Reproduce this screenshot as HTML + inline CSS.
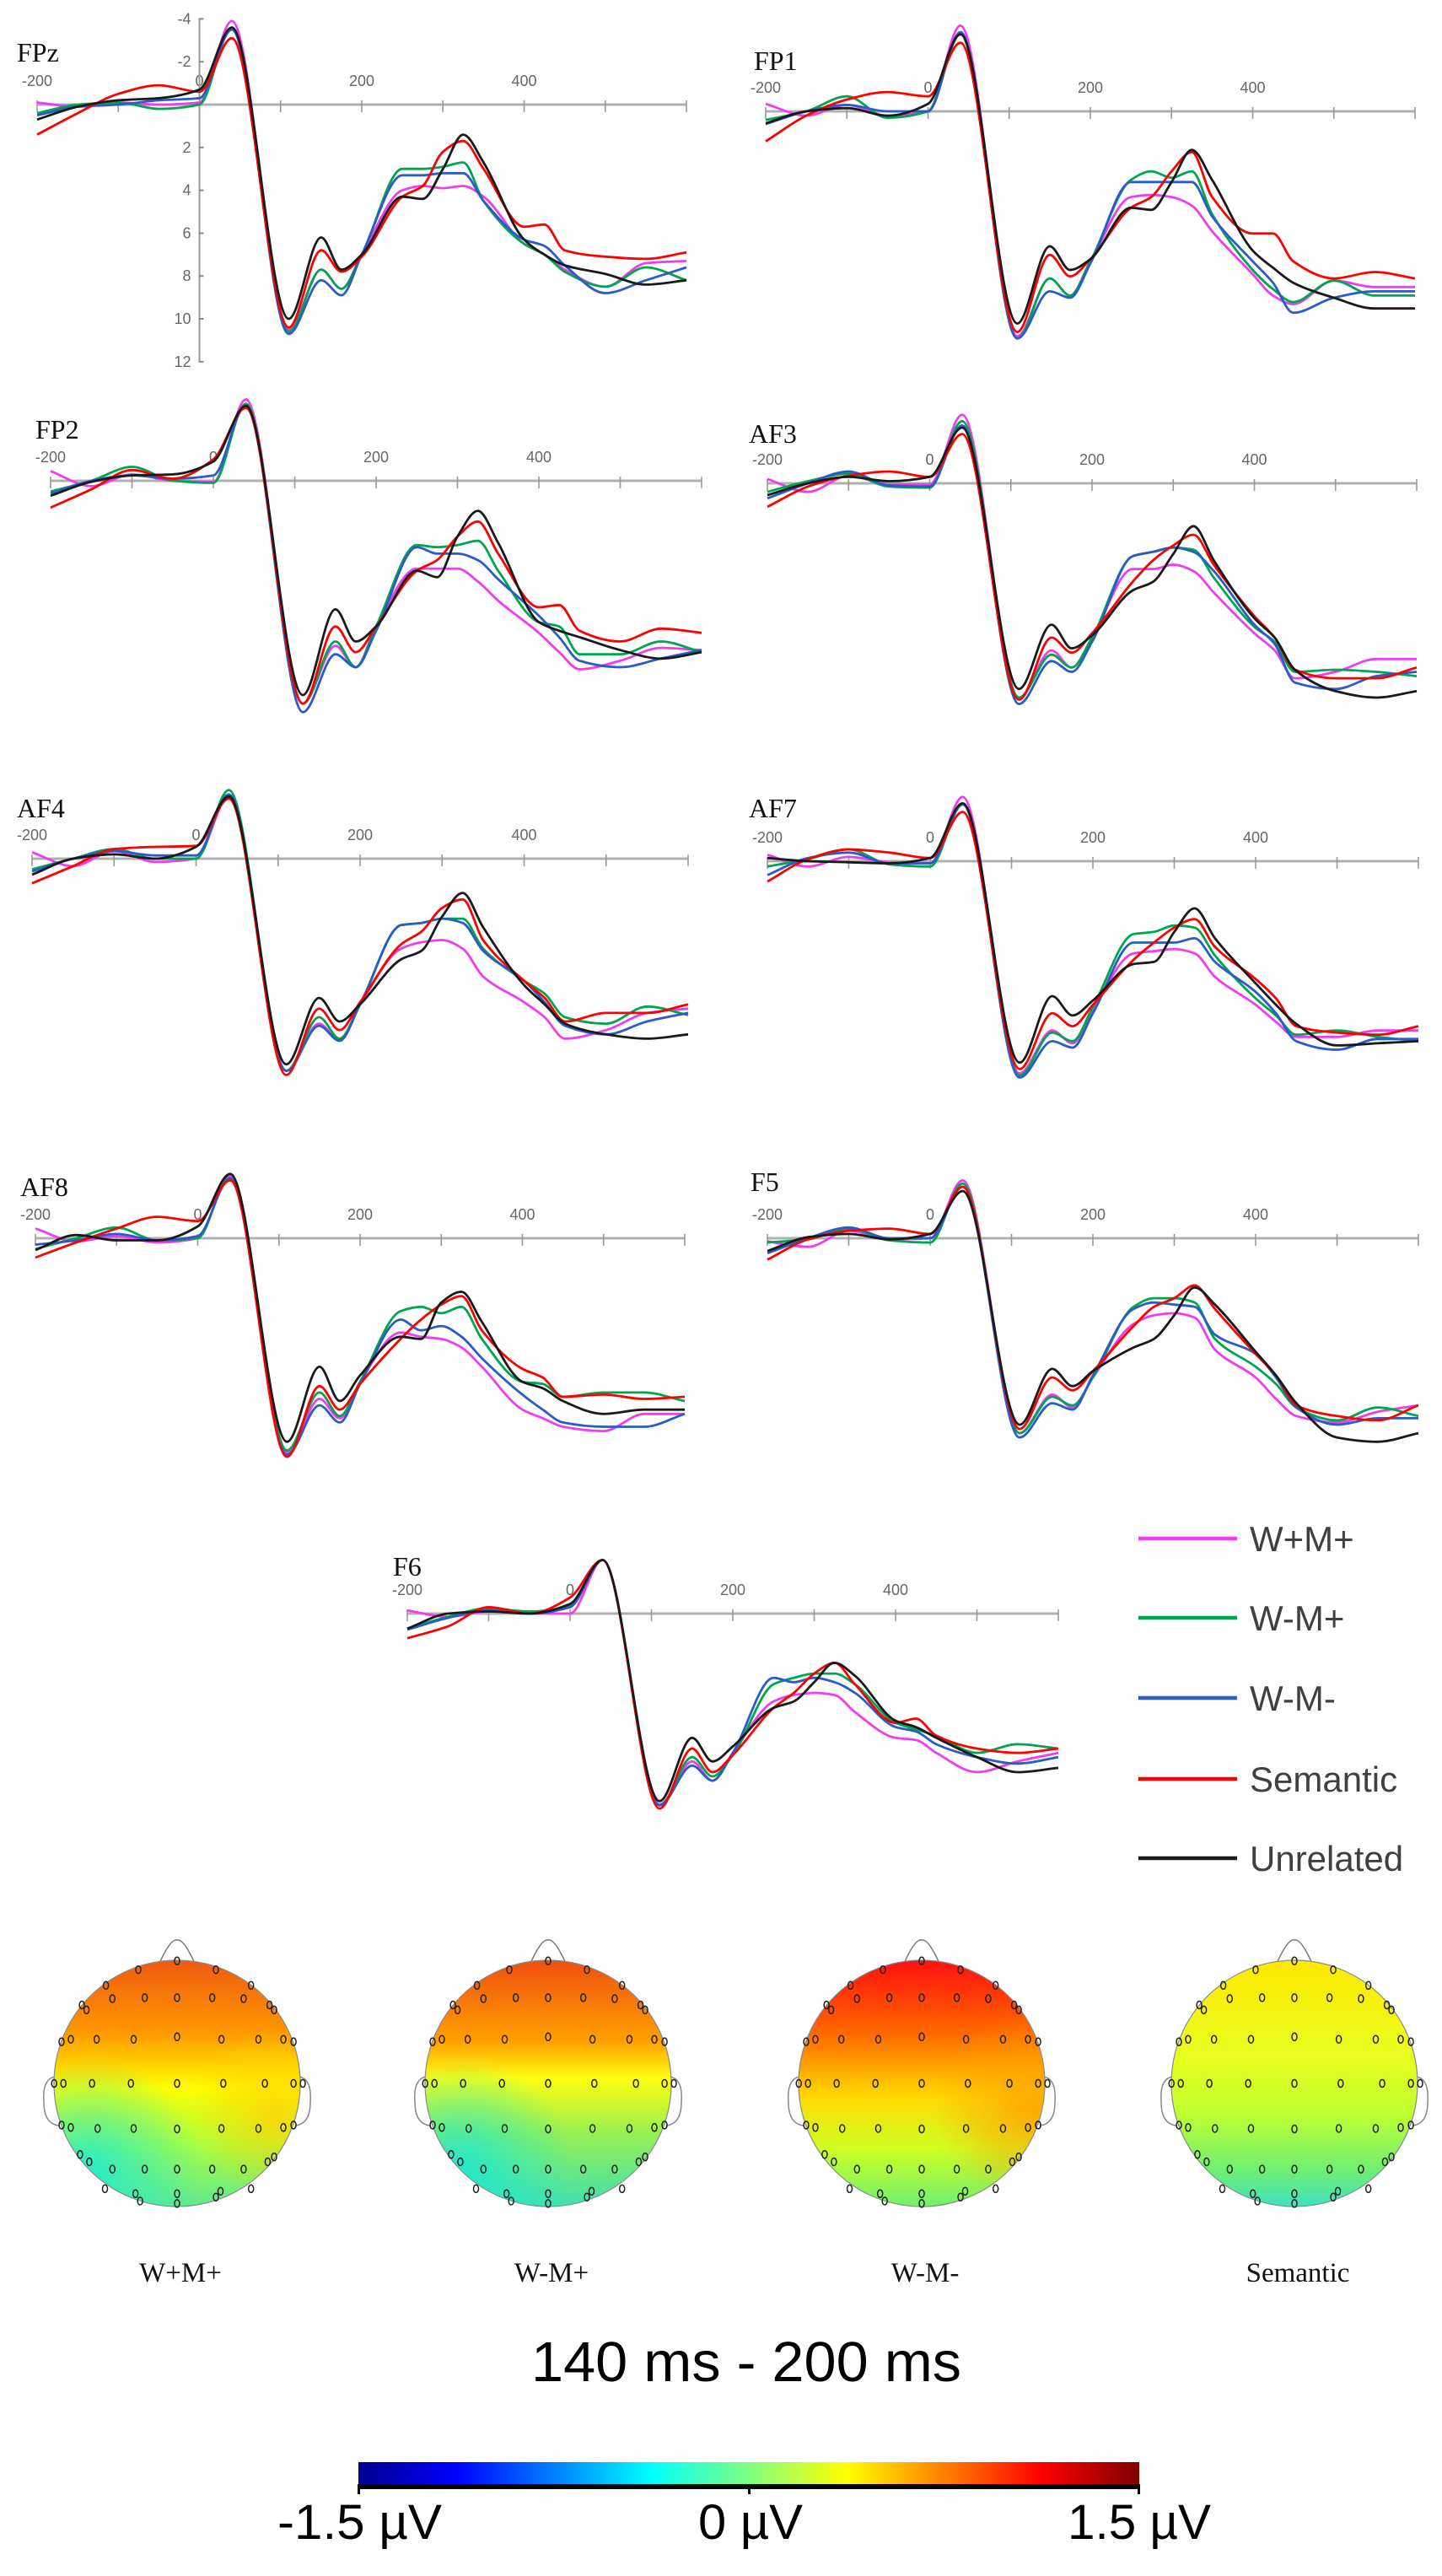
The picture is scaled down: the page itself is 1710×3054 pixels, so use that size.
<!DOCTYPE html>
<html><head><meta charset="utf-8"><title>ERP waveforms and topographic maps</title>
<style>
html,body{margin:0;padding:0;background:#fff;}
svg{display:block;}
.tick{font-family:"Liberation Sans Narrow","Liberation Sans",sans-serif;font-size:18px;fill:#666;}
.chan{font-family:"Liberation Serif",serif;font-size:32px;fill:#111;}
.leg{font-family:"Liberation Sans",sans-serif;font-size:42px;fill:#404040;}
.topo{font-family:"Liberation Serif",serif;font-size:33px;fill:#111;}
.big{font-family:"Liberation Sans Narrow","Liberation Sans",sans-serif;fill:#000;}
</style></head>
<body>
<svg id="fig" xmlns="http://www.w3.org/2000/svg" width="1710" height="3054" viewBox="0 0 1710 3054">
<defs>
<linearGradient id="jet" x1="0" x2="1" y1="0" y2="0">
<stop offset="0" stop-color="#00008f"/><stop offset="0.125" stop-color="#0000ff"/><stop offset="0.375" stop-color="#00ffff"/><stop offset="0.625" stop-color="#ffff00"/><stop offset="0.875" stop-color="#ff0000"/><stop offset="1" stop-color="#800000"/>
</linearGradient>
<linearGradient id="g1" x1="0" x2="0" y1="0" y2="1"><stop offset="0" stop-color="#f05a10"/><stop offset="0.3" stop-color="#ff9a00"/><stop offset="0.52" stop-color="#ffff00"/><stop offset="0.75" stop-color="#a8ff40"/><stop offset="1" stop-color="#60e890"/></linearGradient>
<linearGradient id="g2" x1="0" x2="0" y1="0" y2="1"><stop offset="0" stop-color="#f05010"/><stop offset="0.33" stop-color="#ffa000"/><stop offset="0.48" stop-color="#ffff10"/><stop offset="0.7" stop-color="#98f050"/><stop offset="1" stop-color="#40e0b0"/></linearGradient>
<linearGradient id="g3" x1="0" x2="0" y1="0" y2="1"><stop offset="0" stop-color="#ff1010"/><stop offset="0.3" stop-color="#ff6a00"/><stop offset="0.55" stop-color="#ffd800"/><stop offset="0.76" stop-color="#d0ff20"/><stop offset="1" stop-color="#70f070"/></linearGradient>
<linearGradient id="g4" x1="0" x2="0" y1="0" y2="1"><stop offset="0" stop-color="#ffe800"/><stop offset="0.4" stop-color="#e8ff20"/><stop offset="0.62" stop-color="#c0ff30"/><stop offset="0.85" stop-color="#70f070"/><stop offset="1" stop-color="#40e0c0"/></linearGradient>
<radialGradient id="cyanBL" cx="0.15" cy="0.85" r="0.45"><stop offset="0" stop-color="#10e8e0" stop-opacity="0.8"/><stop offset="1" stop-color="#10e8e0" stop-opacity="0"/></radialGradient>
<radialGradient id="yelR" cx="0.9" cy="0.62" r="0.35"><stop offset="0" stop-color="#ffd000" stop-opacity="0.8"/><stop offset="1" stop-color="#ffd000" stop-opacity="0"/></radialGradient>
<radialGradient id="orR" cx="0.95" cy="0.6" r="0.4"><stop offset="0" stop-color="#ffa000" stop-opacity="0.85"/><stop offset="1" stop-color="#ffa000" stop-opacity="0"/></radialGradient>
</defs>
<g id="panels"></g>
<g id="legend"></g>
<g id="topos"></g>
<text class="big" x="630" y="2823" font-size="67" textLength="510" lengthAdjust="spacingAndGlyphs">140 ms - 200 ms</text>
<g>
<rect x="425" y="2919" width="926" height="27" fill="url(#jet)"/>
<rect x="425" y="2945" width="926" height="6" fill="#000"/>
<rect x="424" y="2945" width="3" height="12" fill="#000"/><rect x="887" y="2945" width="3" height="12" fill="#000"/><rect x="1349" y="2945" width="3" height="12" fill="#000"/>
<text class="big" x="329" y="3010" font-size="58" textLength="195" lengthAdjust="spacingAndGlyphs">-1.5 µV</text>
<text class="big" x="828" y="3010" font-size="58" textLength="124" lengthAdjust="spacingAndGlyphs">0 µV</text>
<text class="big" x="1266" y="3010" font-size="58" textLength="170" lengthAdjust="spacingAndGlyphs">1.5 µV</text>
</g>
</svg>
<script>
// ---- data ----
const times = [-200,-150,-100,-50,0,40,110,150,175,200,250,275,300,325,350,400,425,450,500,550,600];
const seriesNames = ["W+M+","W-M+","W-M-","Semantic","Unrelated"];
const seriesColors = ["#f03cf0","#00a550","#2a5cc8","#ff0000","#1a1a1a"];
const xTickLabels = ["-200","0","200","400"];
const yTickLabels = [-4,-2,2,4,6,8,10,12];

const FPz_WpMp = [-0.1,0.1,-0.1,0.0,-0.1,-3.9,10.5,7.7,8.6,7.0,4.0,3.8,3.9,3.8,4.3,6.5,7.0,7.7,8.5,7.4,7.3];
const FPz_WmMp = [0.4,0.0,-0.1,0.2,0.0,-3.6,10.6,7.7,8.6,7.0,3.0,3.0,2.9,2.7,4.5,6.5,7.0,7.8,8.5,7.6,8.2];
const FPz_WmMm = [0.5,0.1,0.0,-0.2,-0.3,-3.5,10.7,8.2,8.9,7.0,3.3,3.3,3.2,3.2,4.5,6.3,6.6,7.5,8.8,8.2,7.6];
const FPz_Sem  = [1.4,0.4,-0.5,-0.9,-0.6,-3.1,10.4,6.8,7.8,7.1,4.3,3.8,2.2,1.7,3.0,5.7,5.6,6.8,7.1,7.2,6.9];
const FPz_Unr  = [0.7,0.1,-0.2,-0.3,-0.7,-3.6,10.0,6.2,7.7,7.0,4.3,4.4,3.0,1.4,2.7,6.3,7.0,7.5,7.9,8.4,8.2];

const FP1_WpMp = [-0.35,0.2,-0.3,0.2,0.0,-4.0,10.5,7.8,8.6,7.0,4.0,3.9,4.0,4.4,5.6,7.6,8.6,9.0,7.9,8.2,8.2];
const FP1_WmMp = [0.4,0.0,-0.7,0.3,0.0,-3.6,10.6,7.8,8.6,7.0,3.2,2.8,3.1,2.8,4.8,7.4,8.3,8.9,7.9,8.6,8.6];
const FP1_WmMm = [0.6,0.0,-0.3,0.0,0.0,-3.7,10.6,8.4,8.7,7.1,3.3,3.3,3.3,3.3,4.9,7.0,8.0,9.4,8.7,8.4,8.4];
const FP1_Sem  = [1.4,0.2,-0.55,-0.9,-0.7,-3.2,10.3,6.7,7.7,6.9,4.5,4.0,2.8,1.9,4.0,5.7,5.7,7.0,7.8,7.5,7.8];
const FP1_Unr  = [0.56,0.0,-0.15,0.2,-0.35,-3.6,9.9,6.3,7.4,6.9,4.5,4.6,3.3,1.8,3.2,6.5,7.3,8.0,8.7,9.2,9.2];

const FP2_WpMp = [-0.45,0.25,-0.3,0.0,0.05,-3.8,10.4,7.7,8.7,6.8,4.1,4.1,4.1,4.7,5.6,7.1,8.0,8.8,8.4,7.8,7.9];
const FP2_WmMp = [0.5,0.0,-0.65,0.0,0.1,-3.6,10.4,7.5,8.7,6.8,3.0,3.1,3.0,2.8,4.2,6.6,6.8,8.1,8.1,7.5,8.0];
const FP2_WmMm = [0.6,0.0,-0.25,-0.1,-0.25,-3.5,10.8,8.1,8.7,7.0,3.1,3.4,3.4,3.7,4.6,6.3,7.3,8.4,8.7,8.3,7.9];
const FP2_Sem  = [1.25,0.4,-0.5,-0.1,-1.0,-3.4,10.4,6.8,8.0,6.8,4.2,3.7,2.6,1.9,3.4,5.9,5.8,7.0,7.5,6.9,7.1];
const FP2_Unr  = [0.7,0.05,-0.25,-0.3,-0.9,-3.5,10.0,6.0,7.5,6.8,4.2,4.5,2.6,1.4,2.9,6.6,7.0,7.3,7.9,8.3,8.0];

const AF3_WpMp = [-0.2,0.4,-0.35,0.05,0.05,-3.2,10.0,7.8,8.6,7.2,4.0,4.0,3.8,4.1,5.1,7.0,7.8,9.1,8.8,8.2,8.2];
const AF3_WmMp = [0.4,-0.1,-0.45,0.15,0.2,-2.9,10.0,8.0,8.6,7.2,3.4,3.2,3.0,3.1,4.4,6.7,7.4,8.8,8.7,8.8,9.0];
const AF3_WmMm = [0.7,0.0,-0.55,0.1,0.15,-2.7,10.3,8.3,8.8,7.4,3.4,3.2,3.0,3.2,4.1,6.6,7.5,9.3,9.6,9.0,8.8];
const AF3_Sem  = [1.1,0.15,-0.35,-0.55,-0.3,-2.3,10.1,7.2,7.9,7.0,4.6,3.6,2.9,2.4,3.8,6.2,7.2,8.7,9.1,9.1,8.6];
const AF3_Unr  = [0.55,0.0,-0.3,-0.1,-0.3,-2.6,9.6,6.6,7.7,7.1,5.0,4.6,3.3,2.0,3.6,6.3,7.2,8.7,9.7,10.0,9.7];

const AF4_WpMp = [-0.3,0.35,-0.35,0.15,0.0,-2.9,9.9,7.7,8.5,6.8,4.2,3.9,3.8,4.2,5.5,6.7,7.4,8.4,8.0,7.2,7.0];
const AF4_WmMp = [0.5,0.0,-0.45,0.0,0.0,-3.2,9.9,7.4,8.4,6.8,3.1,3.0,2.8,2.8,4.2,5.7,6.3,7.4,7.7,6.9,7.3];
const AF4_WmMm = [0.6,0.0,-0.35,-0.15,-0.15,-3.0,9.9,7.8,8.5,6.8,3.1,3.0,2.8,3.0,4.3,5.7,6.7,7.8,8.2,7.6,7.2];
const AF4_Sem  = [1.15,0.35,-0.45,-0.55,-0.6,-2.8,10.1,7.0,8.0,6.7,4.0,3.4,2.3,1.9,3.8,5.7,6.5,7.6,7.2,7.2,6.8];
const AF4_Unr  = [0.75,0.0,-0.2,0.0,-0.55,-2.9,9.6,6.5,7.6,6.8,4.7,4.3,2.7,1.6,3.2,5.9,6.8,7.7,8.2,8.4,8.2];

const AF7_WpMp = [-0.3,0.25,-0.2,0.05,0.1,-3.0,9.9,7.9,8.5,6.9,4.3,4.2,4.1,4.3,5.4,6.7,7.5,8.2,8.2,7.9,7.9];
const AF7_WmMp = [0.25,-0.1,-0.55,0.15,0.25,-2.65,10.0,8.0,8.4,6.8,3.4,3.3,3.0,3.1,4.4,6.4,7.2,8.1,7.9,8.2,8.4];
const AF7_WmMm = [0.65,-0.15,-0.4,0.1,0.1,-2.65,10.1,8.4,8.7,7.1,3.8,3.8,3.8,3.6,4.7,6.1,7.1,8.4,8.8,8.3,8.3];
const AF7_Sem  = [0.95,-0.1,-0.55,-0.4,-0.15,-2.3,9.7,7.1,7.7,6.7,4.6,3.8,3.1,2.7,4.0,5.5,6.4,7.7,8.0,8.1,7.7];
const AF7_Unr  = [-0.15,0.0,0.05,0.1,-0.15,-2.7,9.4,6.3,7.2,6.5,4.8,4.7,3.3,2.2,3.6,5.7,6.7,7.6,8.6,8.5,8.4];

const AF8_WpMp = [-0.45,0.15,-0.1,0.2,0.0,-2.9,10.0,7.5,8.4,6.7,4.4,4.6,4.7,5.1,6.0,8.0,8.4,8.8,9.0,8.2,8.2];
const AF8_WmMp = [0.5,0.0,-0.5,0.1,0.0,-3.0,9.9,7.2,8.3,6.7,3.4,3.2,3.5,3.2,4.7,6.7,6.8,7.4,7.2,7.2,7.6];
const AF8_WmMm = [0.3,0.1,-0.2,0.1,-0.1,-2.8,10.1,7.8,8.6,6.8,3.8,4.3,4.1,4.6,5.6,7.3,8.0,8.6,8.8,8.8,8.2];
const AF8_Sem  = [0.9,0.2,-0.45,-1.0,-0.8,-2.7,10.2,6.9,8.0,6.8,4.7,3.8,3.1,2.7,4.3,6.1,6.5,7.4,7.3,7.5,7.4];
const AF8_Unr  = [0.55,-0.15,0.1,0.1,-0.55,-3.0,9.5,6.0,7.6,6.4,4.6,4.7,3.0,2.5,3.9,6.7,7.0,7.6,8.2,8.0,8.0];

const F5_WpMp = [0.15,0.4,-0.35,0.05,0.0,-2.7,9.1,7.3,7.9,6.5,4.0,3.6,3.5,3.7,5.2,6.5,7.5,8.3,8.6,8.1,7.8];
const F5_WmMp = [0.2,0.05,-0.45,0.1,0.2,-2.55,9.1,7.4,7.8,6.5,3.2,2.8,2.8,3.0,4.7,6.0,6.8,7.9,8.5,7.9,8.3];
const F5_WmMm = [0.7,0.0,-0.5,0.0,0.0,-2.4,9.3,7.7,8.0,6.4,3.3,3.0,3.1,3.2,4.5,5.4,6.5,7.9,8.7,8.4,8.4];
const F5_Sem  = [1.0,0.05,-0.35,-0.45,-0.2,-2.4,8.9,6.5,7.1,6.2,4.1,3.2,2.8,2.2,3.3,5.4,6.4,7.8,8.3,8.5,7.8];
const F5_Unr  = [0.6,-0.05,-0.2,0.05,-0.2,-2.2,8.7,6.1,6.9,6.2,5.1,4.7,3.6,2.3,3.1,5.3,6.4,7.7,9.3,9.5,9.1];

const F6_WpMp = [-0.15,0.15,-0.1,0.0,0.0,-2.5,8.9,6.9,7.8,6.5,4.1,3.8,3.7,3.8,4.6,5.8,5.9,6.5,7.4,6.9,6.5];
const F6_WmMp = [0.7,0.15,-0.25,-0.1,-0.35,-2.5,8.95,6.7,7.6,6.6,3.3,3.0,2.8,2.8,3.3,5.1,5.4,5.7,6.5,6.1,6.3];
const F6_WmMm = [0.75,0.2,-0.15,0.0,-0.3,-2.5,8.95,7.1,7.8,6.5,3.0,3.2,3.0,3.2,3.7,5.3,5.5,6.1,6.7,7.0,6.7];
const F6_Sem  = [1.15,0.6,-0.3,0.0,-0.75,-2.5,9.1,6.3,7.4,6.6,4.4,3.7,2.8,2.3,3.3,5.1,4.9,5.7,6.3,6.5,6.3];
const F6_Unr  = [0.7,0.0,-0.1,0.0,-0.45,-2.5,8.75,5.8,6.9,6.2,4.4,4.1,3.2,2.3,2.9,5.0,5.3,5.8,6.7,7.4,7.2];

const channelNames = ["FPz","FP1","FP2","AF3","AF4","AF7","AF8","F5","F6"];
const channelData = [
  [FPz_WpMp,FPz_WmMp,FPz_WmMm,FPz_Sem,FPz_Unr],
  [FP1_WpMp,FP1_WmMp,FP1_WmMm,FP1_Sem,FP1_Unr],
  [FP2_WpMp,FP2_WmMp,FP2_WmMm,FP2_Sem,FP2_Unr],
  [AF3_WpMp,AF3_WmMp,AF3_WmMm,AF3_Sem,AF3_Unr],
  [AF4_WpMp,AF4_WmMp,AF4_WmMm,AF4_Sem,AF4_Unr],
  [AF7_WpMp,AF7_WmMp,AF7_WmMm,AF7_Sem,AF7_Unr],
  [AF8_WpMp,AF8_WmMp,AF8_WmMm,AF8_Sem,AF8_Unr],
  [F5_WpMp,F5_WmMp,F5_WmMm,F5_Sem,F5_Unr],
  [F6_WpMp,F6_WmMp,F6_WmMm,F6_Sem,F6_Unr]
];
// layout (not data)
const layout = [
  {x0:44,w:770,ay:124,lx:20,ly:73},
  {x0:908,w:770,ay:132,lx:894,ly:83},
  {x0:60,w:772,ay:570,lx:42,ly:520},
  {x0:910,w:770,ay:573,lx:888,ly:525},
  {x0:38,w:778,ay:1018,lx:20,ly:969},
  {x0:910,w:772,ay:1021,lx:888,ly:969},
  {x0:42,w:770,ay:1468,lx:24,ly:1418},
  {x0:910,w:772,ay:1468,lx:890,ly:1412},
  {x0:483,w:772,ay:1913,lx:466,ly:1868}
];
const PXPERUV = 25.4;

const NS = "http://www.w3.org/2000/svg";
function mk(tag, attrs, parent){ const e=document.createElementNS(NS,tag); for(const k in attrs) e.setAttribute(k,attrs[k]); if(parent) parent.appendChild(e); return e; }

function monoPath(xs, ys){
  const n=xs.length, d=[], h=[], m=[];
  for(let i=0;i<n-1;i++){ h.push(xs[i+1]-xs[i]); d.push((ys[i+1]-ys[i])/h[i]); }
  m[0]=d[0]; m[n-1]=d[n-2];
  for(let i=1;i<n-1;i++){
    if(d[i-1]*d[i]<=0) m[i]=0;
    else { const h0=h[i-1],h1=h[i]; m[i]=3*(h0+h1)/((2*h1+h0)/d[i-1]+(h1+2*h0)/d[i]); }
  }
  let p="M"+xs[0].toFixed(1)+","+ys[0].toFixed(1);
  for(let i=0;i<n-1;i++){
    const hh=h[i]/3;
    p+=" C"+(xs[i]+hh).toFixed(1)+","+(ys[i]+m[i]*hh).toFixed(1)+" "+(xs[i+1]-hh).toFixed(1)+","+(ys[i+1]-m[i+1]*hh).toFixed(1)+" "+xs[i+1].toFixed(1)+","+ys[i+1].toFixed(1);
  }
  return p;
}

const panelsG=document.getElementById("panels");
channelNames.forEach((name,ci)=>{
  const L=layout[ci];
  const xs=t=>L.x0+(t+200)/800*L.w;
  const ys=v=>L.ay+v*PXPERUV;
  const g=mk("g",{},panelsG);
  
  
  const lab=mk("text",{x:L.lx,y:L.ly,class:"chan"},g); lab.textContent=name;
  
  
  const ax=mk("line",{x1:xs(-200),x2:xs(600),y1:L.ay,y2:L.ay,stroke:"#b0b0b0","stroke-width":3},g);
  
  
  for(let t=-200;t<=600;t+=100){
    const tk=mk("line",{x1:xs(t),x2:xs(t),y1:L.ay-5,y2:L.ay+9,stroke:"#999","stroke-width":1.6},g);
    
    
  }
  xTickLabels.forEach(s=>{
    const tx=mk("text",{x:xs(+s),y:L.ay-22,class:"tick","text-anchor":"middle"},g); tx.textContent=s;
    
    
  });
  if(ci===0){
    const yx=xs(0);
    const ya=mk("line",{x1:yx,x2:yx,y1:ys(-4),y2:ys(12),stroke:"#999","stroke-width":2},g);
    
    
    yTickLabels.forEach(v=>{
      const tk=mk("line",{x1:yx-1,x2:yx+5,y1:ys(v),y2:ys(v),stroke:"#888","stroke-width":2},g);
      
      
      const tl=mk("text",{x:yx-10,y:ys(v)+6,class:"tick","text-anchor":"end"},g); tl.textContent=String(v);
      
      
    });
  }
  channelData[ci].forEach((vals,si)=>{
    const p=mk("path",{d:monoPath(times.map(xs),vals.map(ys)),fill:"none",stroke:seriesColors[si],"stroke-width":2.8,"stroke-linejoin":"round"},g);
    
    
  });
});

// legend
const legG=document.getElementById("legend");
const legY=[1824,1918,2013,2109,2203];
seriesNames.forEach((s,i)=>{
  const ln=mk("line",{x1:1350,x2:1467,y1:legY[i],y2:legY[i],stroke:seriesColors[i],"stroke-width":4.5},legG);
  
  
  const tx=mk("text",{x:1482,y:legY[i]+15,class:"leg"},legG); tx.textContent=s;
  
  
});

// topographic maps
const topoNames=["W+M+","W-M+","W-M-","Semantic"];
const topoCx=[210,650,1093,1535];
const topoGrad=["g1","g2","g3","g4"];
const topoOverlays=[["cyanBL","yelR"],["cyanBL"],["orR"],[]];
const elec=[[0,-250],[-42,-232],[42,-232],[-77,-200],[80,-200],[-103,-160],[-98,-150],[100,-160],[105,-150],
[-70,-173],[-35,-175],[0,-175],[38,-175],[72,-173],
[-125,-85],[-115,-90],[-87,-90],[-47,-90],[0,-95],[48,-90],[88,-90],[115,-90],[126,-85],
[-133,0],[-123,0],[-92,0],[-50,0],[0,0],[50,0],[95,0],[126,0],[136,0],
[-125,85],[-115,90],[-86,92],[-47,92],[0,93],[48,92],[88,92],[115,90],[126,85],
[-105,145],[-95,160],[-70,175],[-35,175],[0,175],[38,175],[72,175],[98,160],[105,150],
[-78,215],[-45,225],[-40,240],[0,225],[0,245],[42,232],[47,220],[80,215]];
const topG=document.getElementById("topos");
const cy=2470, rx=146, ry=146;
topoNames.forEach((nm,i)=>{
  const cx=topoCx[i];
  const g=mk("g",{},topG);
  
  
  mk("path",{d:`M${cx-22},${cy-ry+6} Q${cx-8},${cy-ry-26} ${cx},${cy-ry-24} Q${cx+8},${cy-ry-26} ${cx+22},${cy-ry+6}`,fill:"none",stroke:"#777","stroke-width":1.5},g);
  mk("path",{d:`M${cx-rx+2},${cy-8} Q${cx-rx-14},${cy-6} ${cx-rx-12},${cy+22} Q${cx-rx-12},${cy+48} ${cx-rx+6},${cy+50}`,fill:"none",stroke:"#888","stroke-width":1.5},g);
  mk("path",{d:`M${cx+rx-2},${cy-8} Q${cx+rx+14},${cy-6} ${cx+rx+12},${cy+22} Q${cx+rx+12},${cy+48} ${cx+rx-6},${cy+50}`,fill:"none",stroke:"#888","stroke-width":1.5},g);
  mk("ellipse",{cx:cx,cy:cy,rx:rx,ry:ry,fill:`url(#${topoGrad[i]})`},g);
  topoOverlays[i].forEach(o=>mk("ellipse",{cx:cx,cy:cy,rx:rx,ry:ry,fill:`url(#${o})`},g));
  mk("ellipse",{cx:cx,cy:cy,rx:rx,ry:ry,fill:"none",stroke:"#888","stroke-width":1.2},g);
  elec.forEach(e=>{
    const el=mk("ellipse",{cx:cx+e[0]*1.096,cy:cy+e[1]*0.581,rx:3,ry:4.5,fill:"none",stroke:"#222","stroke-width":1.5},g);
    
    
  });
  const t=mk("text",{x:cx+4,y:2705,class:"topo","text-anchor":"middle"},g); t.textContent=nm;
  
  
});
</script>
</body></html>
